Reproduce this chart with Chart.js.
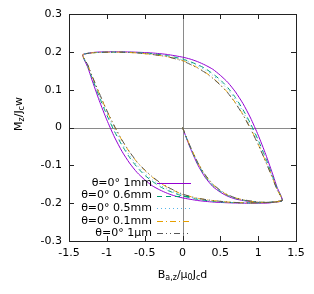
<!DOCTYPE html>
<html>
<head>
<meta charset="utf-8">
<script src="https://cdn.jsdelivr.net/npm/chart.js@4"></script>
<style>
html,body{margin:0;padding:0;background:#fff;}
</style>
</head>
<body>
<canvas id="grafico" width="314" height="294"></canvas>
<script>
// campo aplicado: curva virgem (0 -> 1.32), ramo descendente, ramo ascendente
const bPath = [
  0, 0.05, 0.1, 0.2, 0.3, 0.4, 0.5, 0.6, 0.7, 0.8, 0.9, 1.0, 1.1, 1.2, 1.32,
  1.25, 1.2, 1.1, 1.0, 0.9, 0.8, 0.7, 0.6, 0.5, 0.4, 0.3, 0.2, 0.1, 0, -0.2, -0.4, -0.6, -0.8, -1.0, -1.15, -1.25, -1.32,
  -1.25, -1.2, -1.1, -1.0, -0.9, -0.8, -0.7, -0.6, -0.5, -0.4, -0.3, -0.2, -0.1, 0, 0.2, 0.4, 0.6, 0.8, 1.0, 1.15, 1.25, 1.32
];

const m1mm = [
  0, -0.027, -0.053, -0.098, -0.132, -0.156, -0.171, -0.182, -0.189, -0.193, -0.196, -0.198, -0.199, -0.198, -0.193,
  -0.158, -0.128, -0.071, -0.020, 0.025, 0.063, 0.094, 0.119, 0.138, 0.154, 0.165, 0.174, 0.181, 0.186, 0.193, 0.197, 0.199, 0.200, 0.200, 0.199, 0.196, 0.192,
  0.158, 0.128, 0.071, 0.020, -0.025, -0.063, -0.094, -0.119, -0.138, -0.154, -0.165, -0.174, -0.181, -0.186, -0.193, -0.197, -0.199, -0.200, -0.200, -0.199, -0.196, -0.192
];
const m06mm = [
  0, -0.026, -0.051, -0.095, -0.129, -0.153, -0.169, -0.180, -0.187, -0.192, -0.195, -0.197, -0.198, -0.197, -0.193,
  -0.161, -0.134, -0.081, -0.033, 0.010, 0.047, 0.079, 0.105, 0.126, 0.142, 0.156, 0.166, 0.174, 0.181, 0.190, 0.195, 0.198, 0.199, 0.199, 0.198, 0.196, 0.192,
  0.161, 0.134, 0.081, 0.033, -0.010, -0.047, -0.079, -0.105, -0.126, -0.142, -0.156, -0.166, -0.174, -0.181, -0.190, -0.195, -0.198, -0.199, -0.199, -0.198, -0.196, -0.192
];
const m05mm = [
  0, -0.026, -0.050, -0.094, -0.128, -0.152, -0.168, -0.180, -0.187, -0.192, -0.195, -0.197, -0.198, -0.197, -0.193,
  -0.162, -0.136, -0.085, -0.038, 0.004, 0.042, 0.074, 0.100, 0.121, 0.138, 0.152, 0.163, 0.172, 0.179, 0.189, 0.195, 0.198, 0.199, 0.199, 0.198, 0.196, 0.192,
  0.162, 0.136, 0.085, 0.038, -0.004, -0.042, -0.074, -0.100, -0.121, -0.138, -0.152, -0.163, -0.172, -0.179, -0.189, -0.195, -0.198, -0.199, -0.199, -0.198, -0.196, -0.192
];
const m01mm = [
  0, -0.025, -0.049, -0.092, -0.126, -0.150, -0.167, -0.179, -0.186, -0.191, -0.195, -0.197, -0.198, -0.197, -0.193,
  -0.164, -0.138, -0.090, -0.044, -0.003, 0.034, 0.065, 0.092, 0.113, 0.131, 0.146, 0.158, 0.168, 0.177, 0.187, 0.193, 0.197, 0.199, 0.199, 0.198, 0.196, 0.192,
  0.164, 0.138, 0.090, 0.044, 0.003, -0.034, -0.065, -0.092, -0.113, -0.131, -0.146, -0.158, -0.168, -0.177, -0.187, -0.193, -0.197, -0.199, -0.199, -0.198, -0.196, -0.192
];
const m1um = [
  0, -0.025, -0.049, -0.092, -0.125, -0.149, -0.166, -0.178, -0.186, -0.191, -0.194, -0.197, -0.198, -0.197, -0.193,
  -0.165, -0.139, -0.091, -0.045, -0.004, 0.033, 0.064, 0.091, 0.112, 0.130, 0.145, 0.157, 0.167, 0.176, 0.187, 0.193, 0.197, 0.199, 0.199, 0.198, 0.196, 0.192,
  0.165, 0.139, 0.091, 0.045, 0.004, -0.033, -0.064, -0.091, -0.112, -0.130, -0.145, -0.157, -0.167, -0.176, -0.187, -0.193, -0.197, -0.199, -0.199, -0.198, -0.196, -0.192
];

const legendas = ["θ=0° 1mm", "θ=0° 0.6mm", "θ=0° 0.5mm", "θ=0° 0.1mm", "θ=0° 1μm"];
const xTicks = [-1.5, -1, -0.5, 0, 0.5, 1, 1.5];
const yTicks = [-0.3, -0.2, -0.1, 0, 0.1, 0.2, 0.3];

const FONTE = '"DejaVu Sans", sans-serif';

const estilos = [
  {cor:"#9400d3", dash:[]},
  {cor:"#009e73", dash:[5,4]},
  {cor:"#56b4e9", dash:[1,3]},
  {cor:"#e69f00", dash:[6,3,1,3]},
  {cor:"#555555", dash:[6,3,1,3,1,3]}
];

const series = [m1mm, m06mm, m05mm, m01mm, m1um];

const datasets = series.map((vals, i)=>({
  label: legendas[i],
  data: bPath.map((b, k)=>({x:b, y:vals[k]})),
  showLine: true,
  borderColor: estilos[i].cor,
  borderDash: estilos[i].dash,
  borderWidth: 1,
  pointRadius: 0,
  tension: 0.2,
  fill: false,
  order: 5 - i
}));

function textoRico(ctx, partes, x, y, tam){
  let largura = 0;
  partes.forEach(p=>{
    ctx.font = (p.sub ? Math.round(tam*0.75) : tam) + "px " + FONTE;
    p.w = ctx.measureText(p.t).width;
    largura += p.w;
  });
  let cx = x - largura/2;
  ctx.textAlign = "left";
  ctx.textBaseline = "middle";
  partes.forEach(p=>{
    ctx.font = (p.sub ? Math.round(tam*0.75) : tam) + "px " + FONTE;
    ctx.fillText(p.t, cx, p.sub ? y + 3 : y);
    cx += p.w;
  });
}

const eixosZero = {
  id:"eixosZero",
  beforeDatasetsDraw(chart){
    const {ctx, chartArea:a, scales:{x, y}} = chart;
    const px = Math.round(x.getPixelForValue(0)) + 0.5;
    const py = Math.round(y.getPixelForValue(0)) + 0.5;
    ctx.save();
    ctx.strokeStyle = "#8a8a8a";
    ctx.lineWidth = 1;
    ctx.beginPath();
    ctx.moveTo(a.left, py); ctx.lineTo(a.right, py);
    ctx.moveTo(px, a.top); ctx.lineTo(px, a.bottom);
    ctx.stroke();
    ctx.restore();
  }
};

const moldura = {
  id:"moldura",
  afterDraw(chart){
    const {ctx, chartArea:a, scales:{x, y}} = chart;
    ctx.save();
    ctx.strokeStyle = "#222";
    ctx.lineWidth = 1;
    ctx.beginPath();
    x.ticks.forEach(t=>{
      const px = Math.round(x.getPixelForValue(t.value)) + 0.5;
      ctx.moveTo(px, a.bottom); ctx.lineTo(px, a.bottom - 5);
      ctx.moveTo(px, a.top); ctx.lineTo(px, a.top + 5);
    });
    y.ticks.forEach(t=>{
      const py = Math.round(y.getPixelForValue(t.value)) + 0.5;
      ctx.moveTo(a.left, py); ctx.lineTo(a.left + 5, py);
      ctx.moveTo(a.right, py); ctx.lineTo(a.right - 5, py);
    });
    ctx.stroke();
    ctx.strokeRect(Math.round(a.left) + 0.5, Math.round(a.top) + 0.5, Math.round(a.right - a.left), Math.round(a.bottom - a.top));

    // legenda
    ctx.fillStyle = "#000";
    legendas.forEach((txt, i)=>{
      const ly = 183 + i*12.6;
      ctx.font = "11px " + FONTE;
      ctx.textAlign = "right";
      ctx.textBaseline = "middle";
      ctx.fillText(txt, 152, ly);
      ctx.beginPath();
      ctx.strokeStyle = estilos[i].cor;
      ctx.setLineDash(estilos[i].dash);
      ctx.moveTo(157, Math.round(ly) + 0.5);
      ctx.lineTo(191, Math.round(ly) + 0.5);
      ctx.stroke();
    });
    ctx.setLineDash([]);

    // titulos dos eixos
    ctx.fillStyle = "#000";
    textoRico(ctx, [
      {t:"B"}, {t:"a,z", sub:true}, {t:"/μ"}, {t:"0", sub:true}, {t:"J"}, {t:"c", sub:true}, {t:"d"}
    ], (a.left + a.right)/2, 275, 11);

    ctx.save();
    ctx.translate(19, 114);
    ctx.rotate(-Math.PI/2);
    textoRico(ctx, [
      {t:"M"}, {t:"z", sub:true}, {t:"/J"}, {t:"c", sub:true}, {t:"w"}
    ], 0, 0, 11);
    ctx.restore();

    ctx.restore();
  }
};

function formatar(v){
  return String(Number(v.toFixed(1)));
}

new Chart(document.getElementById("grafico"), {
  type:"scatter",
  data:{ datasets: datasets },
  options:{
    responsive:false,
    animation:false,
    layout:{ padding:{ left:0, right:18, top:14, bottom:0 } },
    plugins:{
      legend:{ display:false },
      tooltip:{ enabled:false }
    },
    scales:{
      x:{
        type:"linear",
        min:-1.5, max:1.5,
        afterBuildTicks: s => { s.ticks = xTicks.map(v=>({value:v})); },
        afterFit: s => { s.height = 53; },
        grid:{ display:false, drawTicks:false },
        border:{ display:false },
        ticks:{
          padding:6,
          color:"#000",
          font:{ family:FONTE, size:11 },
          maxRotation:0,
          callback: v => formatar(v)
        }
      },
      y:{
        type:"linear",
        min:-0.3, max:0.3,
        afterBuildTicks: s => { s.ticks = yTicks.map(v=>({value:v})); },
        afterFit: s => { s.width = 69; },
        grid:{ display:false, drawTicks:false },
        border:{ display:false },
        ticks:{
          padding:7,
          color:"#000",
          font:{ family:FONTE, size:11 },
          callback: v => formatar(v)
        }
      }
    }
  },
  plugins:[eixosZero, moldura]
});
</script>
</body>
</html>
